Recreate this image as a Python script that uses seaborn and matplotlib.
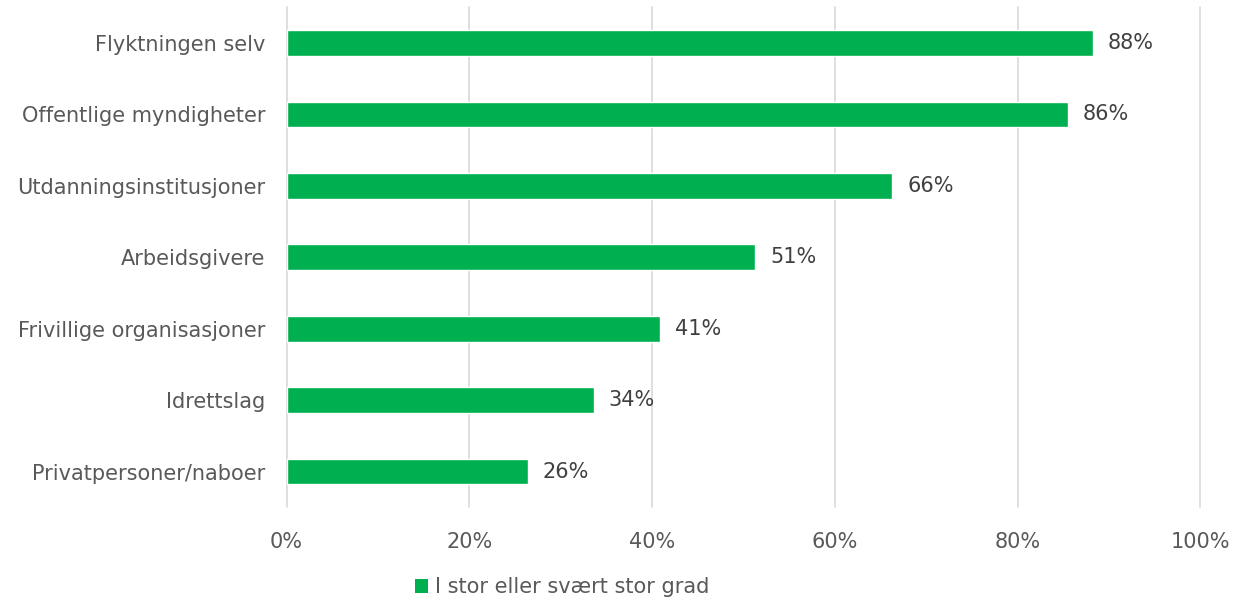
import matplotlib
matplotlib.use("Agg")
import matplotlib.pyplot as plt
import seaborn as sns
import pandas as pd
from matplotlib.patches import Patch

# Data
categories = [
    "Flyktningen selv",
    "Offentlige myndigheter",
    "Utdanningsinstitusjoner",
    "Arbeidsgivere",
    "Frivillige organisasjoner",
    "Idrettslag",
    "Privatpersoner/naboer",
]
values = [88.3, 85.5, 66.3, 51.3, 40.9, 33.6, 26.4]
series_name = "I stor eller svært stor grad"
x_ticks = [0, 20, 40, 60, 80, 100]

df = pd.DataFrame({"kategori": categories, "andel": values})

sns.set_theme(style="white")
plt.rcParams["font.family"] = ["DejaVu Sans"]

green = "#00B050"
text_col = "#595959"
label_col = "#404040"

fig = plt.figure(figsize=(12.35, 6.01), dpi=100)
ax = fig.add_axes([0.232, 0.156, 0.740, 0.832])

sns.barplot(data=df, x="andel", y="kategori", color=green, width=0.36,
            saturation=1, ax=ax, zorder=3)

ax.set_xlim(0, 100)
ax.set_ylim(6.5, -0.5)
ax.set_xticks(x_ticks)
ax.set_xticklabels([f"{t}%" for t in x_ticks])
ax.grid(axis="x", color="#D9D9D9", linewidth=1.2, zorder=0)
for gl in ax.get_xgridlines():
    gl.set_clip_on(False)
ax.set_xlabel("")
ax.set_ylabel("")
for s in ax.spines.values():
    s.set_visible(False)
ax.tick_params(axis="x", length=0, pad=18, labelsize=15, labelcolor=text_col)
ax.tick_params(axis="y", length=0, pad=15, labelsize=15, labelcolor=text_col)

for i, v in enumerate(values):
    ax.text(v + 1.6, i, f"{round(v)}%", va="center", ha="left", fontsize=15,
            color=label_col)

handles = [Patch(facecolor=green, edgecolor="none", label=series_name)]
fig.legend(handles=handles, loc="center", bbox_to_anchor=(0.455, 0.023), frameon=False,
           fontsize=15, labelcolor=text_col, handlelength=0.65, handleheight=0.7,
           handletextpad=0.3)

fig.savefig("out.png", dpi=100)
